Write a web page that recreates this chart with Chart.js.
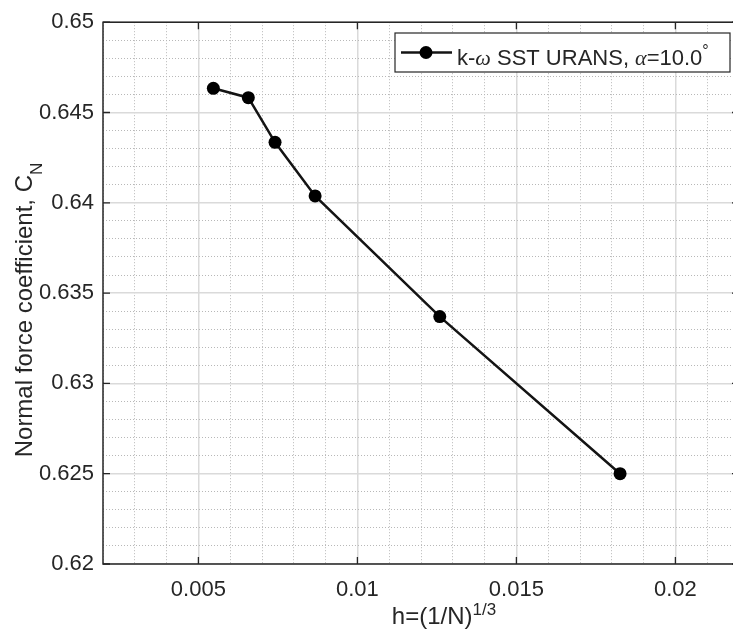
<!DOCTYPE html>
<html>
<head>
<meta charset="utf-8">
<script src="https://cdn.jsdelivr.net/npm/chart.js@4.4.0/dist/chart.umd.min.js"></script>
<style>
  html, body { margin: 0; padding: 0; background: #fff; overflow: hidden; }
  #wrap { width: 760px; height: 629px; }
</style>
</head>
<body>
<div id="wrap"><canvas id="gridChart" width="760" height="629"></canvas></div>
<script>
// grid study data
const hValues = [0.00547, 0.00657, 0.00741, 0.00867, 0.01259, 0.01826];
const cnValues = [0.64634, 0.64582, 0.64335, 0.64038, 0.6337, 0.6250];
const xTickLabels = ['0.005', '0.01', '0.015', '0.02'];
const yTickLabels = ['0.62', '0.625', '0.63', '0.635', '0.64', '0.645', '0.65'];
const xRange = [0.002, 0.022];
const yRange = [0.62, 0.65];
const minorStep = 0.001;
const majorStep = 0.005;

const SANS = '"Liberation Sans", Arial, Helvetica, sans-serif';
const SERIF = '"Liberation Serif", "DejaVu Serif", serif';
const INK = '#262626';

function isMajor(v) {
    const r = v / majorStep;
    return Math.abs(r - Math.round(r)) < 1e-6;
}

function buildTicks(range) {
    const n = Math.round((range[1] - range[0]) / minorStep);
    const out = [];
    for (let i = 0; i <= n; i++) {
        out.push({ value: +(range[0] + i * minorStep).toFixed(6) });
    }
    return out;
}

function labelFor(list, v) {
    const hit = list.find(l => Math.abs(parseFloat(l) - v) < 1e-7);
    return hit === undefined ? '' : hit;
}

const gridOpts = {
    drawTicks: false,
    color: ctx => (ctx.tick && isMajor(ctx.tick.value)) ? '#dadada' : '#b8b8b8',
    lineWidth: ctx => (ctx.tick && isMajor(ctx.tick.value)) ? 1.5 : 1
};
const borderOpts = {
    display: false,
    dash: ctx => (ctx.tick && !isMajor(ctx.tick.value)) ? [1, 2] : []
};

// draws a row of text pieces (font changes, sub/superscripts)
function drawRuns(ctx, runs, x, y, centered) {
    let total = 0;
    runs.forEach(r => { ctx.font = r.font; total += ctx.measureText(r.text).width; });
    let cx = centered ? x - total / 2 : x;
    runs.forEach(r => {
        ctx.font = r.font;
        ctx.fillText(r.text, cx, y + (r.dy || 0));
        cx += ctx.measureText(r.text).width;
    });
}

const framePlugin = {
    id: 'framePlugin',
    beforeDatasetsDraw(chart) {
        const { ctx, chartArea, scales } = chart;
        const { left, right, top, bottom } = chartArea;
        ctx.save();
        ctx.strokeStyle = INK;
        ctx.lineWidth = 1.5;
        ctx.beginPath();
        ctx.moveTo(right, top); ctx.lineTo(left, top);
        ctx.lineTo(left, bottom); ctx.lineTo(right, bottom);
        ctx.lineTo(right, top);
        ctx.stroke();
        // inward tick marks at the labelled values
        ctx.lineWidth = 1.3;
        ctx.beginPath();
        xTickLabels.forEach(l => {
            const px = scales.x.getPixelForValue(parseFloat(l));
            ctx.moveTo(px, bottom); ctx.lineTo(px, bottom - 7);
            ctx.moveTo(px, top); ctx.lineTo(px, top + 7);
        });
        yTickLabels.forEach(l => {
            const py = scales.y.getPixelForValue(parseFloat(l));
            ctx.moveTo(left, py); ctx.lineTo(left + 7, py);
            ctx.moveTo(right, py); ctx.lineTo(right - 7, py);
        });
        ctx.stroke();
        ctx.restore();
    },
    afterDraw(chart) {
        const { ctx } = chart;
        ctx.save();
        ctx.fillStyle = INK;
        ctx.textBaseline = 'alphabetic';
        ctx.textAlign = 'left';

        // x axis title
        drawRuns(ctx, [
            { text: 'h=(1/N)', font: '24px ' + SANS },
            { text: '1/3', font: '17px ' + SANS, dy: -9 }
        ], 444, 624, true);

        // y axis title
        ctx.save();
        ctx.translate(32, 310);
        ctx.rotate(-Math.PI / 2);
        drawRuns(ctx, [
            { text: 'Normal force coefficient, C', font: '24px ' + SANS },
            { text: 'N', font: '17px ' + SANS, dy: 10 }
        ], 0, 0, true);
        ctx.restore();

        // legend box
        const bx = 395, by = 33, bw = 335, bh = 39;
        ctx.fillStyle = '#ffffff';
        ctx.fillRect(bx, by, bw, bh);
        ctx.strokeStyle = INK;
        ctx.lineWidth = 1.2;
        ctx.strokeRect(bx, by, bw, bh);
        const my = by + bh / 2;
        ctx.strokeStyle = '#141414';
        ctx.lineWidth = 2.5;
        ctx.beginPath();
        ctx.moveTo(bx + 6, my); ctx.lineTo(bx + 57, my);
        ctx.stroke();
        ctx.fillStyle = '#000000';
        ctx.beginPath();
        ctx.arc(bx + 31, my, 6.5, 0, Math.PI * 2);
        ctx.fill();
        ctx.fillStyle = INK;
        drawRuns(ctx, [
            { text: 'k-', font: '22px ' + SANS },
            { text: 'ω', font: 'italic 22px ' + SERIF },
            { text: ' SST URANS, ', font: '22px ' + SANS },
            { text: 'α', font: 'italic 22px ' + SERIF },
            { text: '=10.0', font: '22px ' + SANS },
            { text: '°', font: '16px ' + SANS, dy: -9 }
        ], bx + 62, 65, false);
        ctx.restore();
    }
};

const ctx = document.getElementById('gridChart').getContext('2d');
new Chart(ctx, {
    type: 'scatter',
    data: {
        datasets: [{
            label: 'k-ω SST URANS, α=10.0°',
            data: hValues.map((h, i) => ({ x: h, y: cnValues[i] })),
            showLine: true,
            borderColor: '#141414',
            backgroundColor: '#000000',
            borderWidth: 2.5,
            pointRadius: 6.5,
            pointHoverRadius: 6.5,
            pointBorderWidth: 0
        }]
    },
    options: {
        responsive: false,
        animation: false,
        layout: { padding: { top: 19, right: 21, left: 0, bottom: 0 } },
        plugins: {
            legend: { display: false },
            tooltip: { enabled: false }
        },
        scales: {
            x: {
                type: 'linear',
                min: xRange[0],
                max: xRange[1],
                afterBuildTicks: scale => { scale.ticks = buildTicks(xRange); },
                afterFit: scale => { scale.height = 65; },
                grid: gridOpts,
                border: borderOpts,
                ticks: {
                    autoSkip: false,
                    maxRotation: 0,
                    padding: 13,
                    color: INK,
                    font: { family: SANS, size: 22 },
                    callback: v => labelFor(xTickLabels, v)
                }
            },
            y: {
                type: 'linear',
                min: yRange[0],
                max: yRange[1],
                afterBuildTicks: scale => { scale.ticks = buildTicks(yRange); },
                afterFit: scale => { scale.width = 103; },
                grid: gridOpts,
                border: borderOpts,
                ticks: {
                    autoSkip: false,
                    padding: 9,
                    color: INK,
                    font: { family: SANS, size: 22 },
                    callback: v => labelFor(yTickLabels, v)
                }
            }
        }
    },
    plugins: [framePlugin]
});
</script>
</body>
</html>
